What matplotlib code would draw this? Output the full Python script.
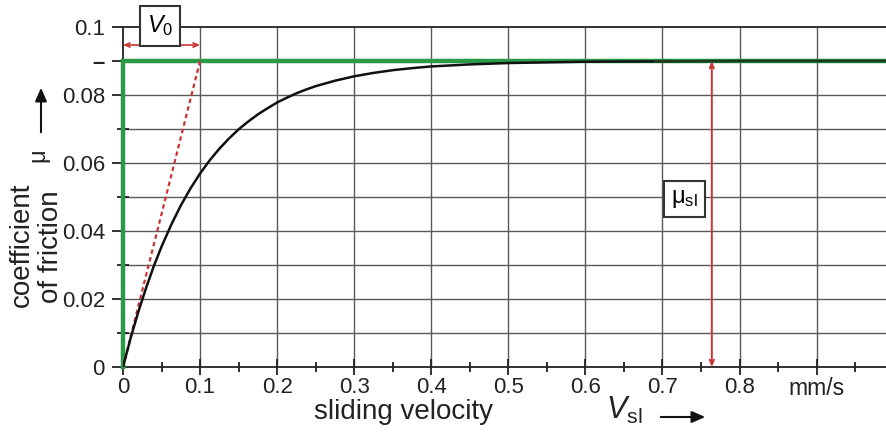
import numpy as np
import matplotlib
matplotlib.use("Agg")
import matplotlib.pyplot as plt

plt.rcParams['font.family'] = ['Liberation Sans', 'DejaVu Sans']
plt.rcParams['mathtext.fontset'] = 'custom'
plt.rcParams['mathtext.rm'] = 'Liberation Sans'
plt.rcParams['mathtext.it'] = 'Liberation Sans:italic'

# curve
v = [0, 0.01, 0.02, 0.03, 0.04, 0.05, 0.0625, 0.075, 0.0875, 0.1, 0.1125, 0.125,
     0.1375, 0.15, 0.1625, 0.175, 0.1875, 0.2, 0.2125, 0.225, 0.2375, 0.25, 0.275,
     0.3, 0.325, 0.35, 0.375, 0.4, 0.45, 0.5, 0.55, 0.6, 0.7, 0.8, 0.99]
mu = [0, 0.0086, 0.0163, 0.0233, 0.0297, 0.0354, 0.0418, 0.0475, 0.0525, 0.0569, 0.0608,
      0.0642, 0.0672, 0.0699, 0.0722, 0.0743, 0.0761, 0.0778, 0.0792, 0.0805, 0.0816,
      0.0826, 0.0842, 0.0855, 0.0865, 0.0873, 0.0879, 0.0884, 0.0890,
      0.0894, 0.0896, 0.0898, 0.0899, 0.0900, 0.0900]
mu_sl = 0.09
v0 = 0.1
v_arrow = 0.764

xticks = [0, 0.1, 0.2, 0.3, 0.4, 0.5, 0.6, 0.7, 0.8, 0.9]
xlabels = ['0', '0.1', '0.2', '0.3', '0.4', '0.5', '0.6', '0.7', '0.8', 'mm/s']
yticks = [0, 0.02, 0.04, 0.06, 0.08, 0.09, 0.1]
ylabels = ['0', '0.02', '0.04', '0.06', '0.08', '\u2013', '0.1']

W, H = 886, 432
fig = plt.figure(figsize=(W / 100, H / 100), dpi=100)
ax = fig.add_axes([123 / W, 1 - 367 / H, 1 - 123 / W, (367 - 27) / H])
ax.set_xlim(0, 0.99)
ax.set_ylim(0, 0.1)

# grid
for x in xticks[1:]:
    ax.axvline(x, color='#5a5a5a', lw=1.0, zorder=1)
for y in np.arange(1, 10) * 0.01:
    ax.axhline(y, color='#5a5a5a', lw=1.0, zorder=1)

ax.spines['right'].set_visible(False)
for s in ['left', 'bottom', 'top']:
    ax.spines[s].set_color('#222222')
    ax.spines[s].set_linewidth(1.3)

ax.set_xticks(xticks)
ax.set_xticklabels(xlabels)
ax.set_xticks(np.arange(0.05, 0.99, 0.1), minor=True)
ax.set_yticks(yticks)
ax.set_yticklabels(ylabels)
ax.set_yticks([0.01, 0.03, 0.05, 0.07], minor=True)
ax.tick_params(axis='x', which='major', direction='inout', length=11, width=1.3,
               labelsize=16, pad=2, colors='#222222')
ax.tick_params(axis='x', which='minor', direction='inout', length=7, width=1.3, colors='#222222')
ax.tick_params(axis='y', which='major', direction='out', length=8, width=1.3,
               labelsize=16, pad=5, colors='#222222')
ax.tick_params(axis='y', which='minor', direction='inout', length=8, width=1.3, colors='#222222')
ax.get_xticklabels()[-1].set_fontsize(16.5)
lab = ax.get_yticklabels()[5]
lab.set_fontweight('bold')
lab.set_fontsize(16)

# green ideal curve
green = '#2a9a48'
ax.plot([0, 0, 0.99], [0, mu_sl, mu_sl], color=green, lw=3.2, zorder=3,
        solid_joinstyle='miter', clip_on=False)
# measured curve
ax.plot(v, mu, color='#111111', lw=1.8, zorder=4)
ax.plot([v[-1] - 0.3, v[-1]], [mu_sl, mu_sl], color='#1a3a22', lw=1.6, zorder=4)
# tangent
red = '#cc3333'
ax.plot([0, v0], [0, mu_sl], color=red, lw=1.6, ls=(0, (2, 1.5)), zorder=3)

# V0 span arrow
ax.annotate('', xy=(0, 0.0947), xytext=(v0, 0.0947),
            arrowprops=dict(arrowstyle='<->,head_length=0.35,head_width=0.15',
                            color=red, lw=1.2, shrinkA=0, shrinkB=0))
ax.text(0.048, 0.1003, r'$V_{\mathrm{0}}$', fontsize=17, ha='center', va='center',
        zorder=6, clip_on=False,
        bbox=dict(boxstyle='square,pad=0.3', fc='white', ec='#333333', lw=1.5))

# mu_sl arrow
ax.annotate('', xy=(v_arrow, 0), xytext=(v_arrow, mu_sl),
            arrowprops=dict(arrowstyle='<->,head_length=0.35,head_width=0.15',
                            color=red, lw=1.4, shrinkA=0, shrinkB=0), zorder=5)
ax.text(0.7286, 0.0494, r'$\mathrm{\mu}_{\mathrm{sl}}$', fontsize=17, ha='center', va='center',
        zorder=6, bbox=dict(boxstyle='square,pad=0.3', fc='white', ec='#333333', lw=1.5))

# axis labels
fig.text(403 / W, 1 - 412 / H, 'sliding velocity', fontsize=20, ha='center', va='center',
         color='#222222')
fig.text(624 / W, 1 - 410 / H, r'$V_{\mathrm{sl}}$', fontsize=22, ha='center', va='center',
         color='#222222')
fig.add_artist(matplotlib.patches.FancyArrowPatch(
    (658 / W, 1 - 417 / H), (708 / W, 1 - 417 / H), transform=fig.transFigure,
    arrowstyle='-|>,head_length=8,head_width=3.5', color='#111111', lw=1.5,
    mutation_scale=1))

fig.text(22 / W, 1 - 245 / H, 'coefficient', fontsize=20, rotation=90, ha='center',
         va='center', color='#222222')
fig.text(51 / W, 1 - 247 / H, 'of friction', fontsize=20, rotation=90, ha='center',
         va='center', color='#222222')
fig.text(42 / W, 1 - 157 / H, r'$\mathrm{\mu}$', fontsize=17, rotation=90, ha='center',
         va='center', color='#222222')
fig.add_artist(matplotlib.patches.FancyArrowPatch(
    (41 / W, 1 - 135 / H), (41 / W, 1 - 85 / H), transform=fig.transFigure,
    arrowstyle='-|>,head_length=8,head_width=3.5', color='#111111', lw=1.5,
    mutation_scale=1))

fig.savefig('out.png', dpi=100)
